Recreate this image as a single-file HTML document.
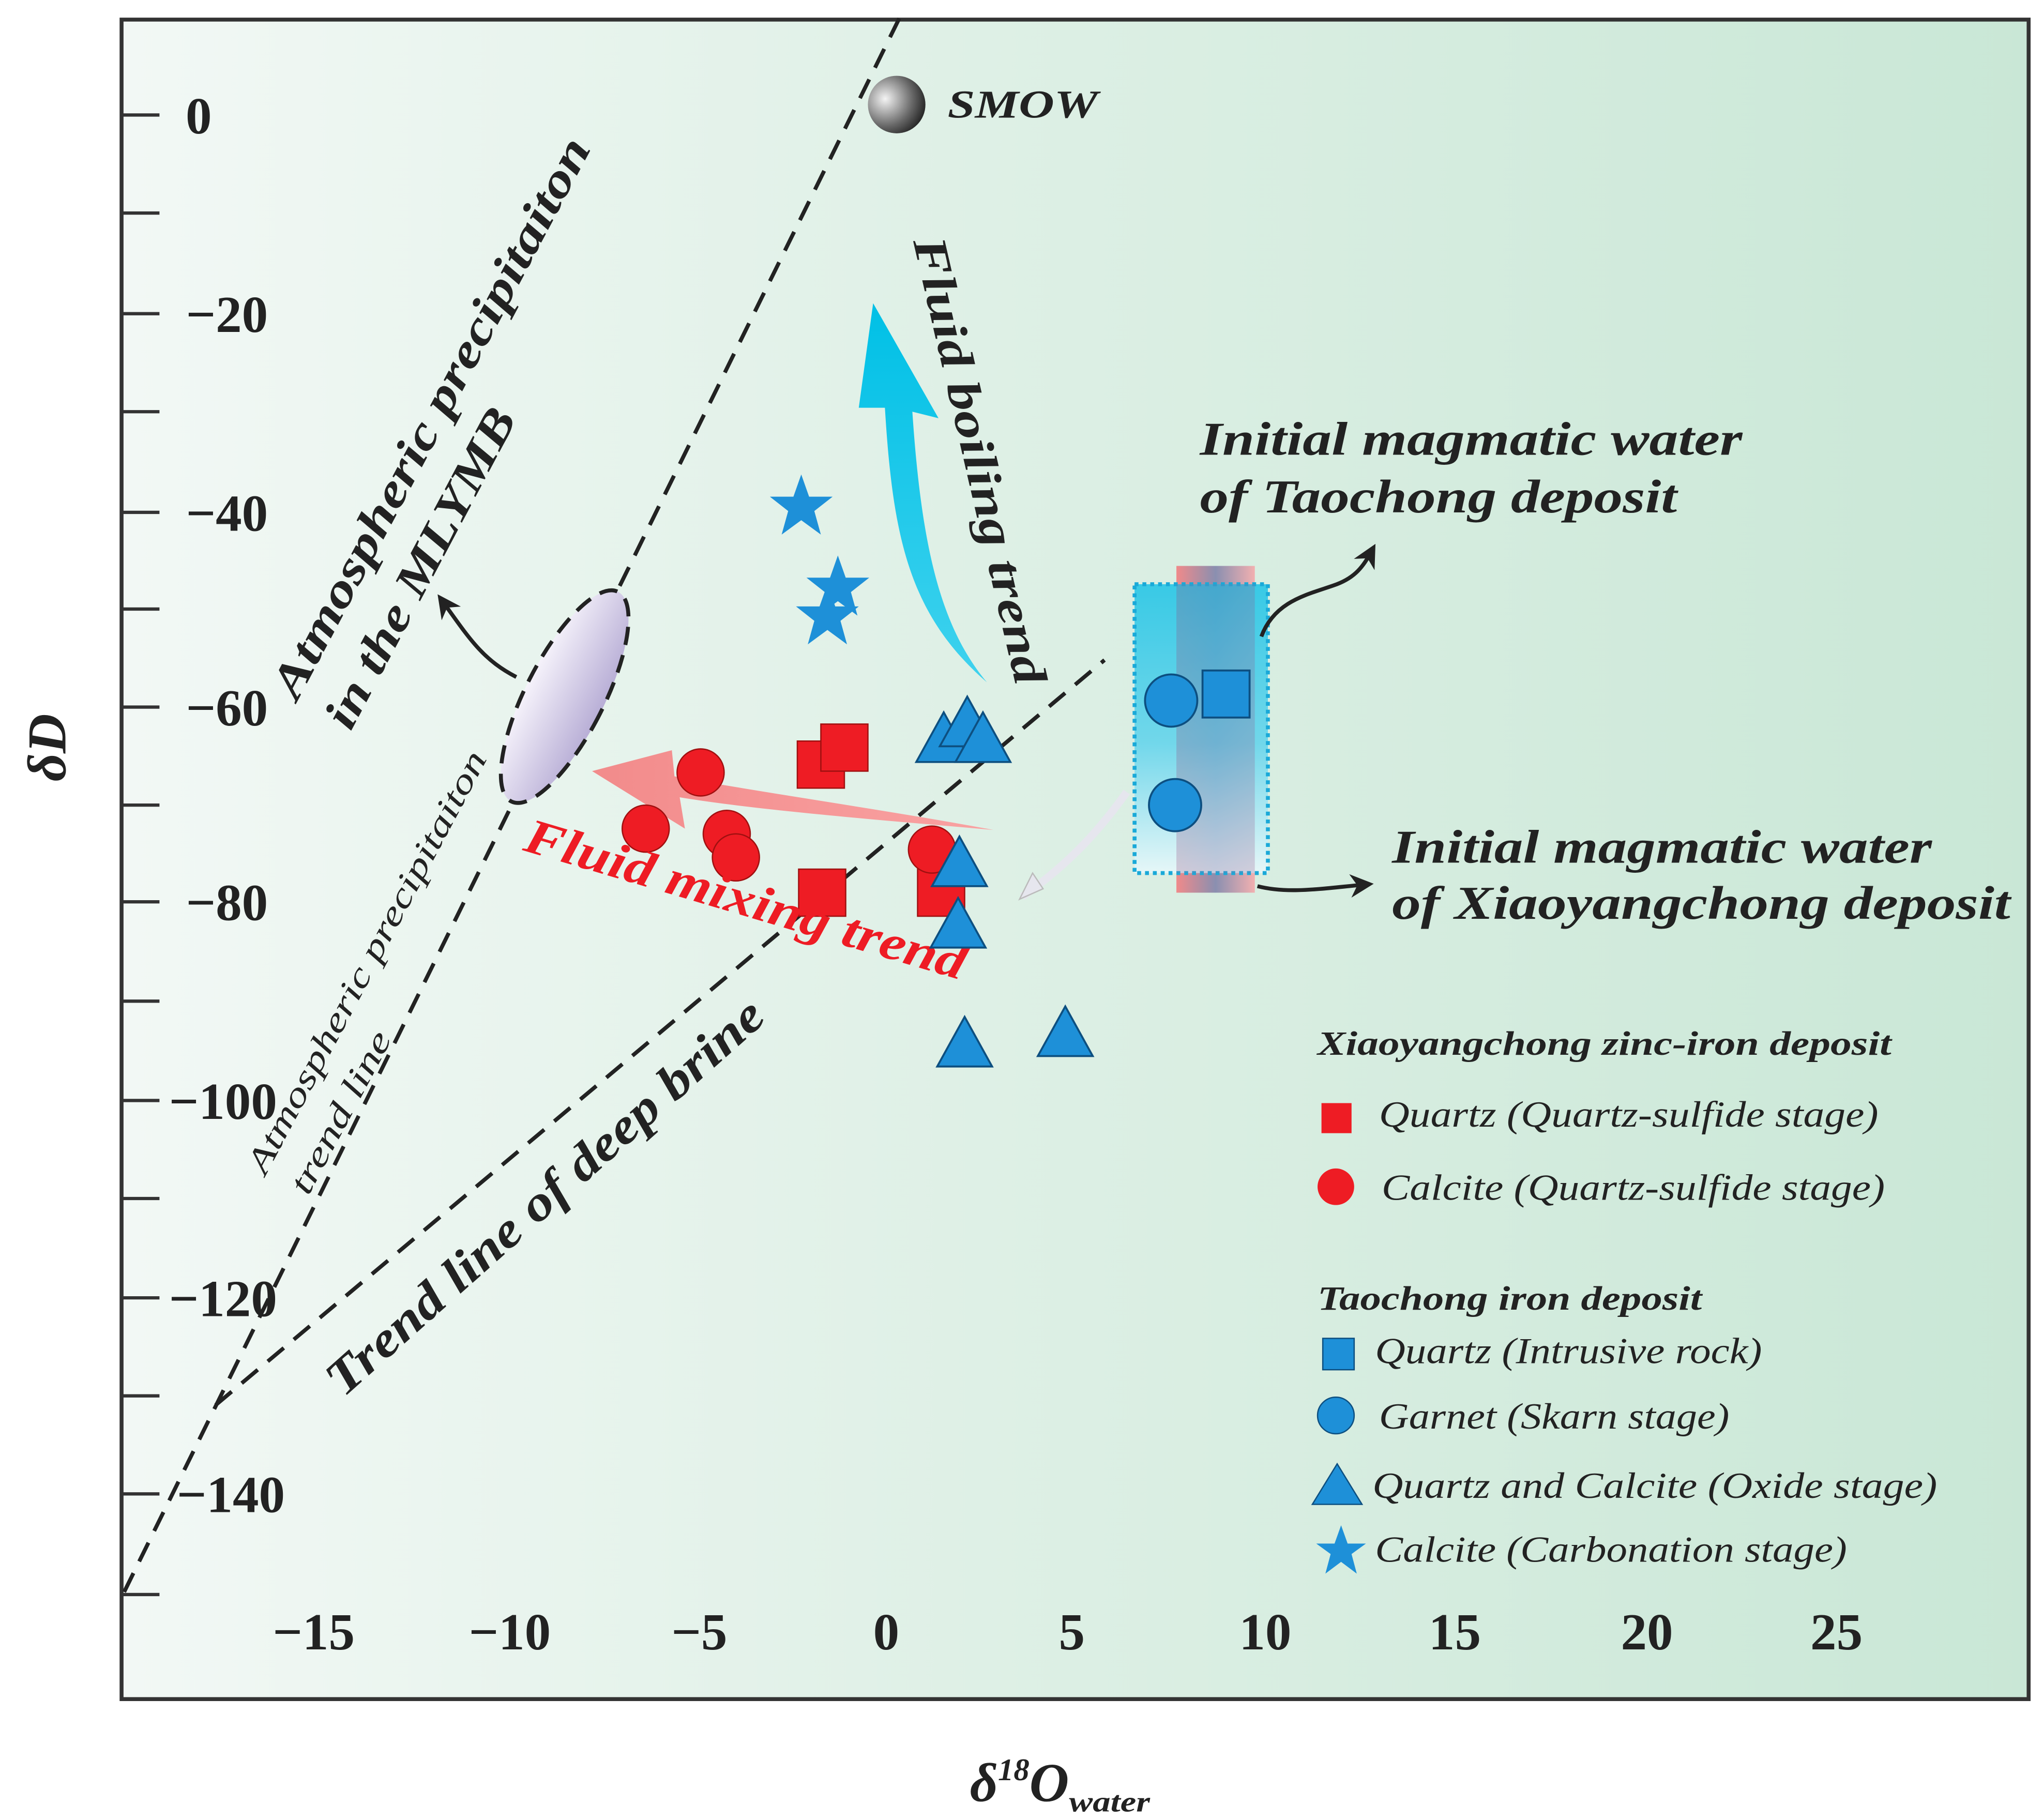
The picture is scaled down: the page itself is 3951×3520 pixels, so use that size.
<!DOCTYPE html>
<html><head><meta charset="utf-8"><style>
html,body{margin:0;padding:0;background:#fff;}
svg{display:block;}
text{font-family:"Liberation Serif",serif;}
</style></head><body>
<svg width="3951" height="3520" viewBox="0 0 1563 1392.5" preserveAspectRatio="none" xmlns="http://www.w3.org/2000/svg">
<defs>
<linearGradient id="bg" x1="0" y1="0" x2="1" y2="0">
<stop offset="0" stop-color="#f2f8f5"/><stop offset="0.5" stop-color="#dcefe4"/><stop offset="1" stop-color="#c9e7d6"/></linearGradient>
<radialGradient id="sm" cx="0.3" cy="0.4" r="0.8"><stop offset="0" stop-color="#f4f4f4"/><stop offset="0.6" stop-color="#666"/><stop offset="1" stop-color="#111"/></radialGradient>
<linearGradient id="el" x1="0" y1="0" x2="1" y2="0"><stop offset="0" stop-color="#f6f3fb"/><stop offset="1" stop-color="#b8aed6"/></linearGradient>
<linearGradient id="cy" x1="0" y1="0" x2="0" y2="1"><stop offset="0" stop-color="#1cc3e6"/><stop offset="0.55" stop-color="#5fd3ec"/><stop offset="1" stop-color="#e8f8fb"/></linearGradient>
<linearGradient id="pk" x1="0" y1="0" x2="1" y2="0"><stop offset="0" stop-color="#f08a8a"/><stop offset="0.5" stop-color="#8a8fb0"/><stop offset="1" stop-color="#f2b0b0"/></linearGradient>
<linearGradient id="ba" x1="0" y1="0" x2="0" y2="1"><stop offset="0" stop-color="#00c0e6"/><stop offset="1" stop-color="#3fd2ee"/></linearGradient>
<linearGradient id="ra" x1="0" y1="0" x2="1" y2="0"><stop offset="0" stop-color="#f28b8b"/><stop offset="1" stop-color="#f9a2a2"/></linearGradient>
<marker id="ah" viewBox="0 0 10 10" refX="5" refY="5" markerWidth="6" markerHeight="6" orient="auto"><path d="M0,0 L10,5 L0,10 L3,5z" fill="#222"/></marker>
</defs>
<rect x="0" y="0" width="1563" height="1392.5" fill="#fff"/>
<rect x="93" y="15" width="1459" height="1285" fill="url(#bg)" stroke="#333" stroke-width="3"/>
<g stroke="#333" stroke-width="2.5">
<line x1="93" y1="88" x2="122" y2="88"/><line x1="93" y1="163" x2="122" y2="163"/>
<line x1="93" y1="240" x2="122" y2="240"/><line x1="93" y1="315" x2="122" y2="315"/>
<line x1="93" y1="392" x2="122" y2="392"/><line x1="93" y1="466" x2="122" y2="466"/>
<line x1="93" y1="541" x2="122" y2="541"/><line x1="93" y1="616" x2="122" y2="616"/>
<line x1="93" y1="690" x2="122" y2="690"/><line x1="93" y1="766" x2="122" y2="766"/>
<line x1="93" y1="842" x2="122" y2="842"/><line x1="93" y1="917" x2="122" y2="917"/>
<line x1="93" y1="993" x2="122" y2="993"/><line x1="93" y1="1068" x2="122" y2="1068"/>
<line x1="93" y1="1143" x2="122" y2="1143"/><line x1="93" y1="1220" x2="122" y2="1220"/>
</g>
<g font-size="40" font-weight="bold" fill="#222" text-anchor="end">
<text x="162" y="102">0</text><text x="205" y="254">−20</text><text x="205" y="406">−40</text>
<text x="205" y="555">−60</text><text x="205" y="704">−80</text><text x="212" y="856">−100</text>
<text x="212" y="1007">−120</text><text x="218" y="1157">−140</text>
</g>
<g font-size="40" font-weight="bold" fill="#222" text-anchor="middle">
<text x="240" y="1262">−15</text><text x="390" y="1262">−10</text><text x="535" y="1262">−5</text>
<text x="678" y="1262">0</text><text x="820" y="1262">5</text><text x="968" y="1262">10</text>
<text x="1113" y="1262">15</text><text x="1260" y="1262">20</text><text x="1405" y="1262">25</text>
</g>
<text transform="translate(50,572) rotate(-90)" font-size="42" font-weight="bold" font-style="italic" text-anchor="middle" fill="#222">δD</text>
<text x="742" y="1378" font-size="42" font-weight="bold" font-style="italic" fill="#222">δ<tspan font-size="24" dy="-16">18</tspan><tspan dy="16">O</tspan><tspan font-size="22" dy="8" textLength="62" lengthAdjust="spacingAndGlyphs">water</tspan></text>
<line x1="95" y1="1218" x2="690" y2="10" stroke="#222" stroke-width="3" stroke-dasharray="16,10"/>
<line x1="165" y1="1075" x2="845" y2="505" stroke="#222" stroke-width="3" stroke-dasharray="16,10"/>
<circle cx="686" cy="80" r="22" fill="url(#sm)"/>
<text x="725" y="90" font-size="30" font-weight="bold" font-style="italic" fill="#222" textLength="115" lengthAdjust="spacingAndGlyphs">SMOW</text>
<ellipse cx="432" cy="533" rx="30" ry="90" transform="rotate(27 432 533)" fill="url(#el)" stroke="#222" stroke-width="3" stroke-dasharray="14,8"/>
<path d="M395,518 C370,505 360,490 340,462" fill="none" stroke="#222" stroke-width="3" marker-end="url(#ah)"/>
<text transform="translate(340,325) rotate(-62)" font-size="36" font-weight="bold" font-style="italic" fill="#222" text-anchor="middle" textLength="480" lengthAdjust="spacingAndGlyphs">Atmospheric precipitaiton</text>
<text transform="translate(332,440) rotate(-62)" font-size="36" font-weight="bold" font-style="italic" fill="#222" text-anchor="middle" textLength="272" lengthAdjust="spacingAndGlyphs">in the MLYMB</text>
<text transform="translate(288,740) rotate(-62)" font-size="26" font-style="italic" fill="#222" text-anchor="middle" textLength="362" lengthAdjust="spacingAndGlyphs">Atmospheric precipitaiton</text>
<text transform="translate(268,855) rotate(-62)" font-size="26" font-style="italic" fill="#222" text-anchor="middle" textLength="137" lengthAdjust="spacingAndGlyphs">trend line</text>
<text transform="translate(425,925) rotate(-41.7)" font-size="38" font-weight="bold" font-style="italic" fill="#222" text-anchor="middle" textLength="435" lengthAdjust="spacingAndGlyphs">Trend line of deep brine</text>
<path d="M755,522 C720,480 705,420 698,315 L718,320 L668,232 L657,312 L677,312 C683,410 695,470 755,522z" fill="url(#ba)"/>
<text transform="translate(738,355) rotate(77)" font-size="36" font-weight="bold" font-style="italic" fill="#222" text-anchor="middle" textLength="350" lengthAdjust="spacingAndGlyphs">Fluid boiling trend</text>
<path d="M760,635 C680,628 580,620 520,610 L524,634 L453,590 L514,574 L516,594 C580,606 680,620 760,635z" fill="url(#ra)"/>
<rect x="900" y="433" width="60" height="250" fill="url(#pk)"/>
<rect x="868" y="447" width="102" height="221" fill="url(#cy)" fill-opacity="0.85" stroke="#1aa9d8" stroke-width="3" stroke-dasharray="3,3"/>
<rect x="900" y="447" width="60" height="221" fill="#8a6f9f" fill-opacity="0.25"/>
<path d="M862,606 C845,630 820,660 782,686" fill="none" stroke="#e6e6ee" stroke-width="6"/>
<path d="M780,688 L790,668 L798,680z" fill="#e6e6ee" stroke="#bbb"/>
<path d="M965,487 C975,460 1000,455 1020,448 C1035,443 1042,435 1048,424" fill="none" stroke="#222" stroke-width="3" marker-end="url(#ah)"/>
<path d="M962,678 C985,684 1010,680 1042,677" fill="none" stroke="#222" stroke-width="3" marker-end="url(#ah)"/>
<g font-size="36" font-weight="bold" font-style="italic" fill="#222" lengthAdjust="spacingAndGlyphs">
<text x="918" y="348" textLength="415" lengthAdjust="spacingAndGlyphs">Initial magmatic water</text>
<text x="918" y="392" textLength="365" lengthAdjust="spacingAndGlyphs">of Taochong deposit</text>
<text x="1065" y="660" textLength="413" lengthAdjust="spacingAndGlyphs">Initial magmatic water</text>
<text x="1065" y="703" textLength="473" lengthAdjust="spacingAndGlyphs">of Xiaoyangchong deposit</text>
</g>
<g fill="#ee1c24" stroke="#a01010" stroke-width="1">
<rect x="610" y="567" width="36" height="36"/><rect x="628" y="554" width="36" height="36"/>
<rect x="611" y="665" width="36" height="36"/><rect x="702" y="665" width="36" height="36"/>
<circle cx="536" cy="591" r="18"/><circle cx="494" cy="634" r="18"/><circle cx="556" cy="638" r="18"/>
<circle cx="563" cy="656" r="18"/><circle cx="713" cy="650" r="18"/>
</g>
<text transform="translate(567,700) rotate(16.5)" font-size="38" font-weight="bold" font-style="italic" fill="#ee1c24" text-anchor="middle" textLength="350" lengthAdjust="spacingAndGlyphs">Fluid mixing trend</text>
<g fill="#1e90d8" stroke="#0d4f80" stroke-width="1.5">
<path d="M722,545 L743,583 L701,583z"/><path d="M740,533 L761,571 L719,571z"/><path d="M752,545 L773,583 L731,583z"/>
<path d="M734,640 L755,678 L713,678z"/><path d="M733,687 L754,725 L712,725z"/>
<path d="M738,778 L759,816 L717,816z"/><path d="M815,770 L836,808 L794,808z"/>
<circle cx="896" cy="536" r="20"/><circle cx="899" cy="616" r="20"/>
<rect x="920" y="513" width="36" height="36"/>
</g>
<g fill="#1e90d8">
<path d="M0,-25 L6,-8 L24,-8 L10,3 L15,21 L0,10 L-15,21 L-10,3 L-24,-8 L-6,-8z" transform="translate(613,388)"/>
<path d="M0,-25 L6,-8 L24,-8 L10,3 L15,21 L0,10 L-15,21 L-10,3 L-24,-8 L-6,-8z" transform="translate(641,450)"/>
<path d="M0,-25 L6,-8 L24,-8 L10,3 L15,21 L0,10 L-15,21 L-10,3 L-24,-8 L-6,-8z" transform="translate(633,472)"/>
</g>
<g font-style="italic" fill="#222">
<text x="1008" y="807" font-size="26" font-weight="bold" textLength="439" lengthAdjust="spacingAndGlyphs">Xiaoyangchong zinc-iron deposit</text>
<text x="1055" y="862" font-size="28" textLength="382" lengthAdjust="spacingAndGlyphs">Quartz (Quartz-sulfide stage)</text>
<text x="1057" y="918" font-size="28" textLength="385" lengthAdjust="spacingAndGlyphs">Calcite (Quartz-sulfide stage)</text>
<text x="1008" y="1002" font-size="26" font-weight="bold" textLength="294" lengthAdjust="spacingAndGlyphs">Taochong iron deposit</text>
<text x="1052" y="1043" font-size="28" textLength="296" lengthAdjust="spacingAndGlyphs">Quartz (Intrusive rock)</text>
<text x="1055" y="1093" font-size="28" textLength="268" lengthAdjust="spacingAndGlyphs">Garnet (Skarn stage)</text>
<text x="1050" y="1146" font-size="28" textLength="432" lengthAdjust="spacingAndGlyphs">Quartz and Calcite  (Oxide stage)</text>
<text x="1052" y="1195" font-size="28" textLength="361" lengthAdjust="spacingAndGlyphs">Calcite (Carbonation stage)</text>
</g>
<rect x="1011" y="844" width="23" height="23" fill="#ee1c24"/>
<circle cx="1022" cy="908" r="14" fill="#ee1c24"/>
<g fill="#1e90d8" stroke="#0d4f80" stroke-width="1">
<rect x="1012" y="1024" width="24" height="24"/>
<circle cx="1022" cy="1083" r="14"/>
<path d="M1023,1120 L1042,1151 L1004,1151z"/>
</g>
<path d="M0,-20 L5,-6 L19,-6 L8,2 L12,17 L0,8 L-12,17 L-8,2 L-19,-6 L-5,-6z" transform="translate(1026,1187)" fill="#1e90d8"/>
</svg>
</body></html>
